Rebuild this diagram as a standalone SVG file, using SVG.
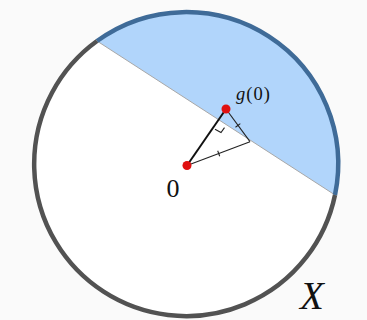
<svg xmlns="http://www.w3.org/2000/svg" width="367" height="320" viewBox="0 0 367 320">
  <style>
    .lbl { font-family: "Liberation Serif", "DejaVu Serif", serif; fill: #111; }
    .thin { stroke: #222; stroke-width: 1.1; fill: none; }
    .dot { fill: #e01010; }
  </style>
  <rect width="367" height="320" fill="#fafafa"/>
  <g id="space">
    <circle cx="186" cy="164" r="152" fill="#ffffff"/>
    <path d="M97,41 A152,152 0 0 1 335,195 Z" fill="#b1d5fb"/>
    <line x1="97" y1="41" x2="335" y2="195" stroke="#a8a8a8" stroke-width="1"/>
    <path d="M97,41 A152,152 0 0 1 335,195" fill="none" stroke="#3f6b98" stroke-width="4.5"/>
    <path d="M335,195 A152,152 0 1 1 97,41" fill="none" stroke="#525252" stroke-width="4.5"/>
    <text class="lbl" x="300" y="309" font-size="39" font-style="italic">X</text>
  </g>
  <g id="connectors">
    <line x1="187" y1="165.5" x2="226" y2="109" stroke="#111" stroke-width="2"/>
    <line class="thin" x1="187" y1="165.5" x2="250" y2="141.7"/>
    <line class="thin" x1="226" y1="109" x2="250" y2="141.7"/>
    <polyline class="thin" points="215,129.3 221,132.6 224.5,127.6"/>
    <line class="thin" x1="217.7" y1="150.7" x2="219.7" y2="156.3"/>
    <line class="thin" x1="235.5" y1="127.2" x2="240.3" y2="123.6"/>
  </g>
  <g id="origin">
    <circle class="dot" cx="187" cy="165.5" r="4.5"/>
    <text class="lbl" x="173" y="197" font-size="26" text-anchor="middle">0</text>
  </g>
  <g id="g0">
    <circle class="dot" cx="226" cy="109" r="4.5"/>
    <text class="lbl" x="236" y="100" font-size="18.5" textLength="34" lengthAdjust="spacing"><tspan font-style="italic">g</tspan>(0)</text>
  </g>
</svg>
